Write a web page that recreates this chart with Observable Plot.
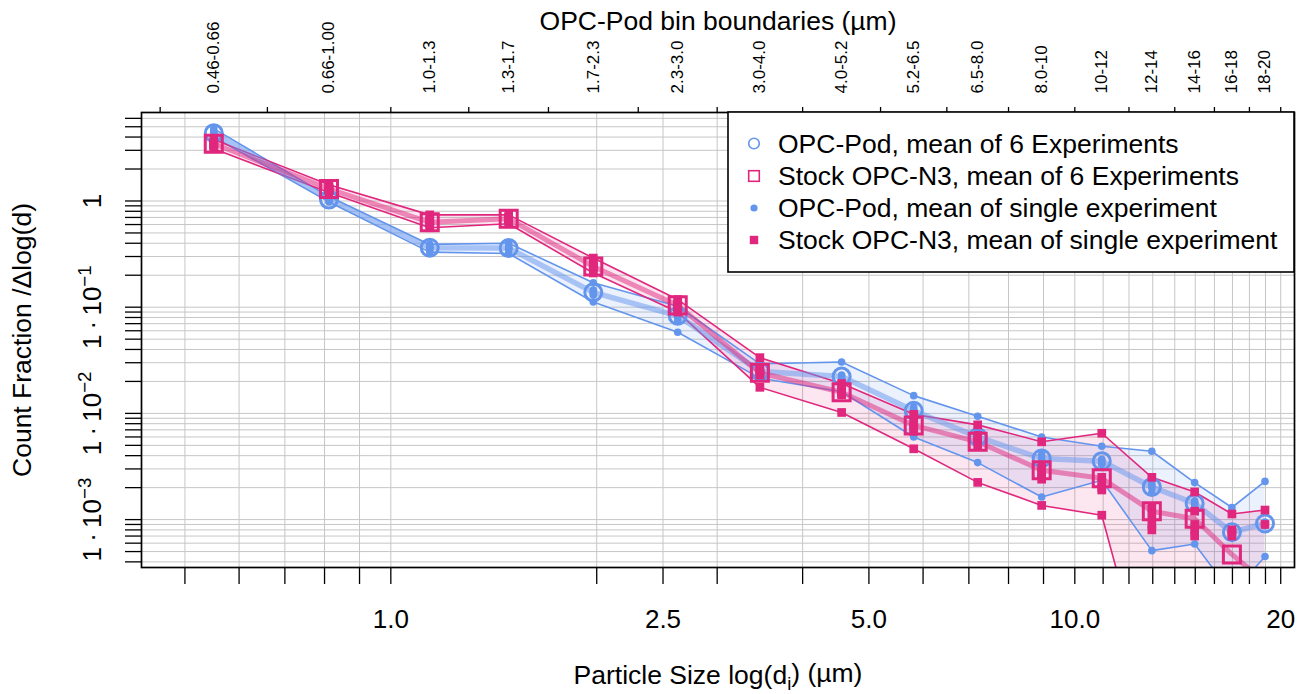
<!DOCTYPE html>
<html>
<head>
<meta charset="utf-8">
<script src="https://cdn.jsdelivr.net/npm/d3@7"></script>
<script src="https://cdn.jsdelivr.net/npm/@observablehq/plot@0.6"></script>
<style>
html, body { margin: 0; padding: 0; background: #fff; overflow: hidden; }
#chart svg { display: block; }
</style>
</head>
<body>
<div id="chart"></div>
<script>
// ---------- data ----------
const binEdges = [0.46, 0.66, 1.0, 1.3, 1.7, 2.3, 3.0, 4.0, 5.2, 6.5, 8.0, 10, 12, 14, 16, 18, 20];
const binLabels = ["0.46-0.66", "0.66-1.00", "1.0-1.3", "1.3-1.7", "1.7-2.3", "2.3-3.0", "3.0-4.0", "4.0-5.2",
  "5.2-6.5", "6.5-8.0", "8.0-10", "10-12", "12-14", "14-16", "16-18", "18-20"];
const binCentres = [0.551, 0.812, 1.140, 1.487, 1.977, 2.627, 3.464, 4.561, 5.814, 7.211, 8.944, 10.95, 12.96, 14.97, 16.97, 18.97];

// means of 6 experiments
const podMean = [4.35, 1.03, 0.363, 0.36, 0.138, 0.083, 0.0249, 0.0222, 0.0106, 0.0060, 0.00376, 0.00355, 0.00203, 0.00142, 0.00076, 0.00092];
const n3Mean  = [3.46, 1.30, 0.63, 0.68, 0.242, 0.104, 0.0241, 0.0158, 0.0077, 0.0054, 0.00292, 0.00245, 0.0012, 0.00102, 0.00047, 0.00026];

// single experiments, OPC-Pod
const podExp1 = [4.8, 1.10, 0.39, 0.40, 0.170, 0.102, 0.0293, 0.0305, 0.0147, 0.0094, 0.0060, 0.0049, 0.0044, 0.00223, 0.0013, 0.00229];
const podExp2 = [4.3, 1.02, 0.36, 0.36, 0.135, 0.080, 0.0240, 0.0210, 0.0105, 0.0062, 0.0038, 0.0036, 0.0021, 0.00140, 0.00078, 0.00087];
const podExp3 = [4.0, 0.98, 0.33, 0.32, 0.112, 0.058, 0.0215, 0.0160, 0.0060, 0.00344, 0.00163, 0.00235, 0.00051, 0.00059, 0.0002, 0.00045];
const podExp4 = [4.4, 1.04, 0.37, 0.37, 0.140, 0.085, 0.0250, 0.0230, 0.0110, 0.0058, 0.0035, 0.0034, 0.0020, 0.00145, 0.00074, 0.00092];
const podExp5 = [4.2, 1.00, 0.35, 0.35, 0.130, 0.090, 0.0255, 0.0190, 0.0095, 0.0052, 0.0041, 0.0037, 0.0018, 0.00130, 0.00080, 0.00090];
const podExp6 = [4.5, 1.06, 0.365, 0.355, 0.145, 0.075, 0.0230, 0.0220, 0.0115, 0.0065, 0.0032, 0.0033, 0.0022, 0.00150, 0.00072, 0.00095];

// single experiments, stock OPC-N3
const n3Exp1 = [3.8, 1.42, 0.74, 0.74, 0.290, 0.118, 0.0335, 0.0191, 0.0098, 0.0078, 0.0054, 0.0065, 0.0025, 0.00182, 0.00113, 0.00123];
const n3Exp2 = [3.4, 1.30, 0.62, 0.68, 0.240, 0.100, 0.0240, 0.0160, 0.0078, 0.0055, 0.0028, 0.0025, 0.0013, 0.00120, 0.00080, 0.00090];
const n3Exp3 = [3.1, 1.20, 0.56, 0.61, 0.210, 0.090, 0.0176, 0.0102, 0.00464, 0.00224, 0.00136, 0.0011, 0.00002, 0.00001, 0.00001, 0.00001];
const n3Exp4 = [3.5, 1.28, 0.65, 0.70, 0.250, 0.105, 0.0230, 0.0150, 0.0072, 0.0050, 0.0031, 0.0022, 0.0011, 0.00090, 0.00075, 0.00002];
const n3Exp5 = [3.45, 1.33, 0.60, 0.66, 0.235, 0.108, 0.0250, 0.0170, 0.0085, 0.0060, 0.0026, 0.0020, 0.0009, 0.00080, 0.00070, 0.00002];
const n3Exp6 = [3.3, 1.25, 0.66, 0.69, 0.245, 0.098, 0.0260, 0.0155, 0.0068, 0.0062, 0.0024, 0.0019, 0.0008, 0.00070, 0.00002, 0.00002];

// axis ticks / labels
const xTicks = [0.5, 0.6, 0.7, 0.8, 0.9, 1, 2, 2.5, 3, 4, 5, 6, 7, 8, 9, 10, 11, 12, 13, 14, 15, 16, 17, 18, 19, 20];
const xLabelValues = [1, 2.5, 5, 10, 20];
const xLabelTexts = ["1.0", "2.5", "5.0", "10.0", "20"];
const yTicks = [0.0004, 0.0005, 0.0006, 0.0007, 0.0008, 0.0009,
  0.001, 0.002, 0.003, 0.004, 0.005, 0.006, 0.007, 0.008, 0.009,
  0.01, 0.02, 0.03, 0.04, 0.05, 0.06, 0.07, 0.08, 0.09,
  0.1, 0.2, 0.3, 0.4, 0.5, 0.6, 0.7, 0.8, 0.9,
  1, 2, 3, 4, 5, 6];
const yLabelValues = [1, 0.1, 0.01, 0.001];
const yLabelTexts = ["1", "1\u2009·\u200910^\u22121", "1\u2009·\u200910^\u22122", "1\u2009·\u200910^\u22123"];

const topTitle = "OPC-Pod bin boundaries (µm)";
const xTitle = "Particle Size log(d_i) (µm)";
const yTitle = "Count Fraction /Δlog(d)";
const legendLabels = ["OPC-Pod, mean of 6 Experiments", "Stock OPC-N3, mean of 6 Experiments",
  "OPC-Pod, mean of single experiment", "Stock OPC-N3, mean of single experiment"];

// ---------- build ----------
const BLUE = "#6495ED";
const PINK = "#E0267D";
const FONT = "'Liberation Sans', Arial, Helvetica, sans-serif";

const podExps = [podExp1, podExp2, podExp3, podExp4, podExp5, podExp6];
const n3Exps = [n3Exp1, n3Exp2, n3Exp3, n3Exp4, n3Exp5, n3Exp6];
const band = (exps, mean) => binCentres.map((x, i) => ({
  x, lo: d3.min(exps, e => e[i]), hi: d3.max(exps, e => e[i]), mean: mean[i]
}));
const podBand = band(podExps, podMean);
const n3Band = band(n3Exps, n3Mean);
const pts = exps => exps.flatMap((e, k) => e.map((v, i) => ({x: binCentres[i], y: v, exp: k + 1})));
const podPts = pts(podExps);
const n3Pts = pts(n3Exps);

const chart = Plot.plot({
  width: 1308, height: 694,
  marginLeft: 141, marginRight: 14, marginTop: 112, marginBottom: 127,
  style: {fontFamily: FONT, fontSize: "26px", background: "#fff", color: "#000"},
  x: {type: "log", domain: [0.432, 20.95], label: null},
  y: {type: "log", domain: [3.54e-4, 6.81], label: null},
  marks: [
    Plot.gridX(xTicks, {stroke: "#c6c6c6", strokeOpacity: 1, strokeWidth: 1}),
    Plot.gridY(yTicks, {stroke: "#c6c6c6", strokeOpacity: 1, strokeWidth: 1}),
    Plot.areaY(podBand, {x: "x", y1: "lo", y2: "hi", fill: BLUE, fillOpacity: 0.13, clip: true}),
    Plot.areaY(n3Band, {x: "x", y1: "lo", y2: "hi", fill: PINK, fillOpacity: 0.11, clip: true}),
    Plot.line(podBand, {x: "x", y: "lo", stroke: BLUE, strokeWidth: 1.6, clip: true}),
    Plot.line(podBand, {x: "x", y: "hi", stroke: BLUE, strokeWidth: 1.6, clip: true}),
    Plot.line(n3Band, {x: "x", y: "lo", stroke: PINK, strokeWidth: 1.6, clip: true}),
    Plot.line(n3Band, {x: "x", y: "hi", stroke: PINK, strokeWidth: 1.6, clip: true}),
    Plot.line(podBand, {x: "x", y: "mean", stroke: BLUE, strokeOpacity: 0.5, strokeWidth: 5.5, clip: true}),
    Plot.line(n3Band, {x: "x", y: "mean", stroke: PINK, strokeOpacity: 0.5, strokeWidth: 5, clip: true}),
    Plot.dot(podPts, {x: "x", y: "y", r: 3.8, fill: BLUE, clip: true}),
    Plot.dot(podBand, {x: "x", y: "mean", r: 8.5, stroke: BLUE, strokeWidth: 3, fill: "none", clip: true}),
    Plot.dot(n3Pts, {x: "x", y: "y", symbol: "square", r: 4.9, fill: PINK, clip: true}),
    Plot.dot(n3Band, {x: "x", y: "mean", symbol: "square", r: 9.6, stroke: PINK, strokeWidth: 3, fill: "none", clip: true}),
    Plot.frame({stroke: "#000", strokeWidth: 1.7}),
    Plot.axisX(xTicks, {anchor: "bottom", tickSize: 17, tickFormat: () => "", strokeWidth: 1.3, label: null}),
    Plot.axisX(binEdges, {anchor: "top", tickSize: 6, tickFormat: () => "", strokeWidth: 1.3, label: null}),
    Plot.axisY(yTicks, {anchor: "left", tickSize: 16, tickFormat: () => "", strokeWidth: 1.3, label: null}),
    Plot.text(xLabelValues, {x: d => d, text: (d, i) => xLabelTexts[i], frameAnchor: "bottom", dy: 52,
      textAnchor: "middle", lineAnchor: "middle", fontSize: 26}),
    Plot.text(yLabelValues, {y: d => d, text: (d, i) => yLabelTexts[i], frameAnchor: "left", dx: -49, rotate: -90,
      textAnchor: "middle", lineAnchor: "middle", fontSize: 26}),
    Plot.text(binCentres, {x: d => d, text: (d, i) => binLabels[i], frameAnchor: "top", dy: -19, rotate: -90,
      textAnchor: "start", lineAnchor: "middle", fontSize: 17}),
    Plot.text([topTitle], {text: d => d, frameAnchor: "top", dy: -90.5, textAnchor: "middle", lineAnchor: "middle", fontSize: 26.5}),
    Plot.text([xTitle], {text: d => d, frameAnchor: "bottom", dy: 108.5, textAnchor: "middle", lineAnchor: "middle", fontSize: 26.5}),
    Plot.text([yTitle], {text: d => d, frameAnchor: "left", dx: -118.8, rotate: -90, textAnchor: "middle", lineAnchor: "middle", fontSize: 26.5})
  ]
});
document.getElementById("chart").appendChild(chart);

// ---------- superscripts / subscripts ----------
const svg = d3.select(chart);
svg.selectAll("text").each(function () {
  const el = d3.select(this);
  const t = this.textContent;
  if (t.includes("^")) {
    const k = t.indexOf("^");
    el.text(t.slice(0, k));
    el.append("tspan").attr("dy", "-0.5em").attr("font-size", "0.72em").text(t.slice(k + 1));
  } else if (t.includes("_")) {
    const k = t.indexOf("_");
    el.text(t.slice(0, k));
    el.append("tspan").attr("dy", "0.28em").attr("font-size", "0.7em").text(t.slice(k + 1, k + 2));
    el.append("tspan").attr("dy", "-0.28em").text(t.slice(k + 2));
  }
});

// ---------- legend ----------
const lg = svg.append("g").attr("font-family", FONT);
lg.append("rect").attr("x", 728).attr("y", 112).attr("width", 566).attr("height", 160)
  .attr("fill", "#fff").attr("stroke", "#000").attr("stroke-width", 1.6);
const rowsY = [143.5, 176, 208, 240];
const sx = 754;
lg.append("circle").attr("cx", sx).attr("cy", rowsY[0]).attr("r", 5.3).attr("fill", "none").attr("stroke", BLUE).attr("stroke-width", 1.6);
lg.append("rect").attr("x", sx - 5.3).attr("y", rowsY[1] - 5.3).attr("width", 10.6).attr("height", 10.6).attr("fill", "none").attr("stroke", PINK).attr("stroke-width", 1.6);
lg.append("circle").attr("cx", sx).attr("cy", rowsY[2]).attr("r", 3.6).attr("fill", BLUE);
lg.append("rect").attr("x", sx - 4.2).attr("y", rowsY[3] - 4.2).attr("width", 8.4).attr("height", 8.4).attr("fill", PINK);
legendLabels.forEach((s, i) => {
  lg.append("text").attr("x", 778).attr("y", rowsY[i]).attr("dy", "0.35em")
    .attr("text-anchor", "start").attr("font-size", 26.5).attr("fill", "#000").text(s);
});
</script>
</body>
</html>
